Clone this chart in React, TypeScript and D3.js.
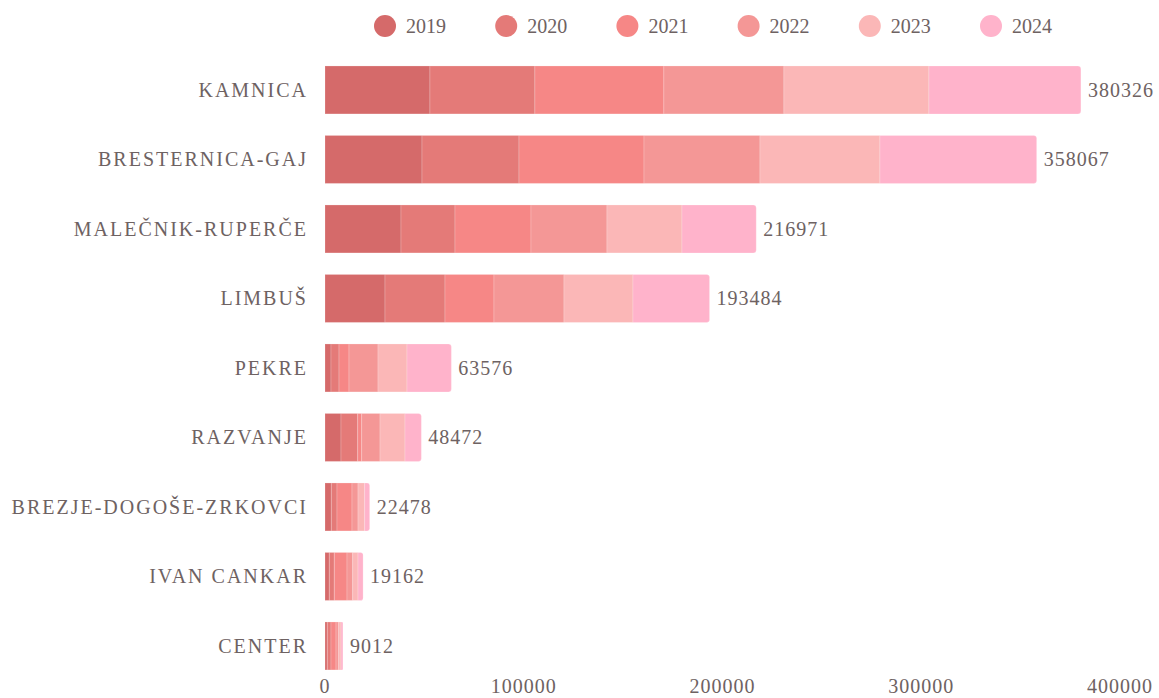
import * as d3 from 'd3';

// districts, top to bottom
const districts = [
  'KAMNICA',
  'BRESTERNICA-GAJ',
  'MALEČNIK-RUPERČE',
  'LIMBUŠ',
  'PEKRE',
  'RAZVANJE',
  'BREZJE-DOGOŠE-ZRKOVCI',
  'IVAN CANKAR',
  'CENTER',
];

const years = ['2019', '2020', '2021', '2022', '2023', '2024'];

// one array per year, same order as districts
const v2019 = [52800, 48800, 38240, 30190, 3020, 8050, 3170, 2160, 1160];
const v2020 = [52800, 48800, 27160, 30180, 4020, 8400, 2870, 2520, 1860];
const v2021 = [64900, 62900, 38240, 24650, 5030, 2010, 7540, 6390, 2510];
const v2022 = [60400, 58350, 38230, 35220, 14590, 9210, 3020, 2870, 1360];
const v2023 = [72950, 60350, 37730, 34710, 14590, 12580, 3370, 2660, 1160];
const v2024 = [76476, 78867, 37371, 38534, 22326, 8222, 2508, 2562, 962];

const xTicks = [0, 100000, 200000, 300000, 400000];

const colors = ['#d56a6a', '#e47a78', '#f68786', '#f49796', '#fbb7b7', '#ffb3cb'];

const W = 1159;
const H = 698;
const textColor = '#6e6262';
const font = "'Liberation Serif', 'Times New Roman', 'DejaVu Serif', serif";

const App = () => {
  const series = [v2019, v2020, v2021, v2022, v2023, v2024];

  const rows = districts.map((name, i) => {
    const row: Record<string, any> = { name };
    years.forEach((y, j) => {
      row[y] = series[j][i];
    });
    return row;
  });

  const stack = d3.stack<any>().keys(years);
  const layers = stack(rows);

  const totals = districts.map((_, i) => d3.sum(series, (s) => s[i]));

  const x = d3.scaleLinear().domain([0, 400000]).range([325, 1120]);

  const y = d3
    .scaleBand()
    .domain(districts)
    .range([55.2, 680.7])
    .paddingInner(0.31)
    .paddingOuter(0.155);

  const color = d3.scaleOrdinal<string, string>().domain(years).range(colors);

  const bh = y.bandwidth();
  const r = 3;

  // rect with rounded right corners only
  const roundRight = (x0: number, x1: number, y0: number, h: number) => {
    const rr = Math.min(r, (x1 - x0) / 2);
    return `M${x0},${y0}H${x1 - rr}Q${x1},${y0} ${x1},${y0 + rr}V${y0 + h - rr}Q${x1},${y0 + h} ${x1 - rr},${y0 + h}H${x0}Z`;
  };

  const legendX = d3.scalePoint().domain(years).range([385, 991]);

  return (
    <svg
      width={W}
      height={H}
      style={{ position: 'absolute', left: 0, top: 0, background: '#fff', fontFamily: font }}
    >
      {/* legend */}
      {years.map((yr) => (
        <g key={yr} transform={`translate(${legendX(yr)},26)`}>
          <circle r={11} fill={color(yr)} />
          <text x={21} dy="0.35em" fontSize={20} fill={textColor}>
            {yr}
          </text>
        </g>
      ))}

      {/* bars */}
      {layers.map((layer, li) => (
        <g key={layer.key} fill={color(layer.key)}>
          {layer.map((d, i) => {
            const x0 = x(d[0]);
            const x1 = x(d[1]);
            const y0 = y(districts[i]) as number;
            if (li === layers.length - 1) {
              return (
                <path
                  key={i}
                  d={roundRight(x0, x1, y0, bh)}
                  stroke="#fff"
                  strokeOpacity={0.2}
                  strokeWidth={1}
                />
              );
            }
            return (
              <rect
                key={i}
                x={x0}
                y={y0}
                width={Math.max(0, x1 - x0)}
                height={bh}
                stroke="#fff"
                strokeOpacity={0.2}
                strokeWidth={1}
              />
            );
          })}
        </g>
      ))}

      {/* category labels */}
      {districts.map((name) => (
        <text
          key={name}
          x={308}
          y={(y(name) as number) + bh / 2}
          dy="0.35em"
          textAnchor="end"
          fontSize={20}
          letterSpacing={2}
          fill={textColor}
        >
          {name}
        </text>
      ))}

      {/* totals */}
      {districts.map((name, i) => (
        <text
          key={name}
          x={x(totals[i]) + 7}
          y={(y(name) as number) + bh / 2}
          dy="0.35em"
          fontSize={20}
          letterSpacing={1}
          fill={textColor}
        >
          {totals[i]}
        </text>
      ))}

      {/* x axis labels */}
      {xTicks.map((t) => (
        <text
          key={t}
          x={x(t)}
          y={686}
          dy="0.35em"
          textAnchor="middle"
          fontSize={20}
          letterSpacing={1}
          fill={textColor}
        >
          {t}
        </text>
      ))}
    </svg>
  );
};

export default App;
